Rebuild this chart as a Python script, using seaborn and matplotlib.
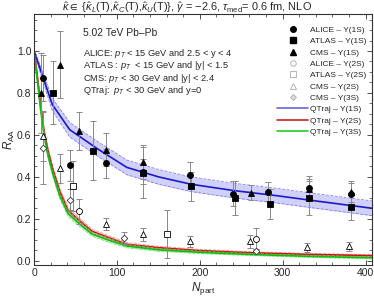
import numpy as np
import pandas as pd
import matplotlib
matplotlib.use("Agg")
import matplotlib.pyplot as plt
import seaborn as sns
from matplotlib.lines import Line2D
from matplotlib.ticker import MultipleLocator

# experimental data (Npart, R_AA, error)
alice_1s_x = [11, 43, 87, 131, 188, 240, 282, 332, 382]
alice_1s_y = [0.87, 0.455, 0.465, 0.425, 0.41, 0.32, 0.33, 0.345, 0.32]
alice_1s_e = [0.11, 0.075, 0.07, 0.06, 0.06, 0.06, 0.045, 0.06, 0.05]

atlas_1s_x = [23, 71, 131, 189, 242, 285, 332, 382]
atlas_1s_y = [0.80, 0.525, 0.42, 0.355, 0.30, 0.27, 0.30, 0.255]
atlas_1s_e = [0.15, 0.14, 0.12, 0.07, 0.08, 0.07, 0.08, 0.06]

cms_1s_x = [9, 31, 54, 87, 131, 262, 332, 382]
cms_1s_y = [0.80, 0.935, 0.62, 0.53, 0.47, 0.325, 0.34, 0.33]
cms_1s_e = [0.19, 0.16, 0.09, 0.08, 0.08, 0.035, 0.05, 0.05]

alice_2s_x = [54, 268]
alice_2s_y = [0.235, 0.105]
alice_2s_e = [0.06, 0.05]

atlas_2s_x = [47, 160]
atlas_2s_y = [0.355, 0.128]
atlas_2s_e = [0.12, 0.115]

cms_2s_x = [10.5, 31, 87, 131, 188, 261, 329, 380]
cms_2s_y = [0.595, 0.44, 0.175, 0.125, 0.092, 0.092, 0.063, 0.068]
cms_2s_e = [0.12, 0.07, 0.03, 0.03, 0.025, 0.03, 0.02, 0.02]

cms_3s_x = [10.5, 43, 108, 268]
cms_3s_y = [0.537, 0.29, 0.108, 0.048]
cms_3s_e = [0.17, 0.05, 0.03, 0.01]

# QTraj curves
qt_1s_x = [0, 22, 43, 76, 112, 150, 189, 240, 293, 340, 408]
qt_1s_y = [1.0, 0.745, 0.625, 0.535, 0.445, 0.40, 0.365, 0.335, 0.31, 0.285, 0.25]
qt_1s_band = [0.01, 0.03, 0.035, 0.035, 0.035, 0.035, 0.035, 0.035, 0.035, 0.035, 0.035]

qt_2s_x = [0, 4, 8, 12, 17, 23, 31, 41, 55, 70, 90, 112, 150, 200, 260, 330, 408]
qt_2s_y = [1.0, 0.88, 0.74, 0.62, 0.52, 0.43, 0.33, 0.24, 0.19, 0.14, 0.11, 0.078,
           0.062, 0.048, 0.038, 0.030, 0.024]
qt_3s_y = [0.99, 0.86, 0.72, 0.60, 0.50, 0.41, 0.31, 0.225, 0.175, 0.127, 0.098, 0.07,
           0.052, 0.040, 0.030, 0.021, 0.014]
qt_23s_band = [0.005, 0.015, 0.015, 0.015, 0.015, 0.015, 0.015, 0.015, 0.012, 0.01,
               0.01, 0.008, 0.007, 0.006, 0.005, 0.005, 0.005]

sns.set_theme(style="ticks")
plt.rcParams["font.family"] = ["Liberation Sans", "DejaVu Sans"]
plt.rcParams["mathtext.fontset"] = "custom"
plt.rcParams["mathtext.rm"] = "Liberation Sans"
plt.rcParams["mathtext.it"] = "Liberation Sans:italic"
plt.rcParams["mathtext.bf"] = "Liberation Sans:bold"
plt.rcParams["mathtext.fallback"] = "stixsans"

fig = plt.figure(figsize=(3.74, 3.0), dpi=100)
ax = fig.add_axes([0.091, 0.117, 0.904, 0.836])

blue, red, green = "#1a1acc", "#cc1111", "#11bb11"

curves = [
    (qt_1s_x, qt_1s_y, qt_1s_band, blue, "#6666ee"),
    (qt_2s_x, qt_2s_y, qt_23s_band, red, "#ee7777"),
    (qt_2s_x, qt_3s_y, qt_23s_band, green, "#66dd66"),
]
for xs, ys, bw, col, bcol in curves:
    xs = np.array(xs, dtype=float)
    ys = np.array(ys)
    bw = np.array(bw)
    ax.fill_between(xs, ys - bw, ys + bw, color=bcol, alpha=0.3, lw=0)
    ax.plot(xs, ys - bw, color=bcol, lw=0.6, ls="--", alpha=0.8)
    ax.plot(xs, ys + bw, color=bcol, lw=0.6, ls="--", alpha=0.8)
    df = pd.DataFrame({"Npart": xs, "RAA": ys})
    sns.lineplot(data=df, x="Npart", y="RAA", color=col, lw=1.2, ax=ax,
                 sort=False, estimator=None)

datasets = [
    (alice_1s_x, alice_1s_y, alice_1s_e, "o", "black", "black", 4.3),
    (atlas_1s_x, atlas_1s_y, atlas_1s_e, "s", "black", "black", 4.2),
    (cms_1s_x, cms_1s_y, cms_1s_e, "^", "black", "black", 4.6),
    (alice_2s_x, alice_2s_y, alice_2s_e, "o", "white", "black", 4.3),
    (atlas_2s_x, atlas_2s_y, atlas_2s_e, "s", "white", "black", 4.2),
    (cms_2s_x, cms_2s_y, cms_2s_e, "^", "white", "black", 4.6),
    (cms_3s_x, cms_3s_y, cms_3s_e, "D", "white", "#333333", 3.4),
]
for xs, ys, es, m, fc, ec, ms in datasets:
    ax.errorbar(xs, ys, yerr=es, fmt="none", ecolor="#888888", elinewidth=0.7,
                capsize=2, capthick=0.7, zorder=3)
    ax.plot(xs, ys, ls="none", marker=m, mfc=fc, mec=ec, ms=ms, mew=0.6, zorder=4)

ax.set_xlim(0, 408)
ax.set_ylim(-0.02, 1.176)
ax.xaxis.set_major_locator(MultipleLocator(100))
ax.xaxis.set_minor_locator(MultipleLocator(20))
ax.yaxis.set_major_locator(MultipleLocator(0.2))
ax.yaxis.set_minor_locator(MultipleLocator(0.05))
ax.yaxis.set_major_formatter(matplotlib.ticker.FormatStrFormatter("%.1f"))
ax.tick_params(which="both", direction="in", top=True, right=True, labelsize=7.5,
               pad=2, color="#333333")
ax.tick_params(which="major", length=3.5, width=0.6)
ax.tick_params(which="minor", length=2, width=0.5)
for s in ax.spines.values():
    s.set_linewidth(0.8)
    s.set_color("#333333")

ax.set_xlabel("$N_{\\mathrm{part}}$", fontsize=8.5, labelpad=2)
ax.set_ylabel("$R_{\\mathrm{AA}}$", fontsize=8.5, labelpad=0)

fig.text(0.5, 0.975,
         "$\\hat{\\kappa} \\in$ {$\\hat{\\kappa}_L$(T),$\\hat{\\kappa}_C$(T),$\\hat{\\kappa}_U$(T)}, "
         "$\\hat{\\gamma}$ = −2.6, $\\tau_{\\mathrm{med}}$= 0.6 fm, NLO",
         ha="center", va="center", fontsize=7.9)

ax.text(59, 1.086, "5.02 TeV Pb–Pb", fontsize=7.4, va="center")
lines = [
    "ALICE: $p_T$ < 15 GeV and 2.5 < y < 4",
    "ATLAS : $p_T$  < 15 GeV and |y| < 1.5",
    "CMS: $p_T$ < 30 GeV and |y| < 2.4",
    "QTraj:  $p_T$ < 30 GeV and y=0",
]
for i, t in enumerate(lines):
    ax.text(59, 0.99 - i * 0.06, t, fontsize=6.7, va="center")

grey = "#aaaaaa"
handles = [
    Line2D([], [], ls="none", marker="o", mfc="black", mec="black", ms=4),
    Line2D([], [], ls="none", marker="s", mfc="black", mec="black", ms=4),
    Line2D([], [], ls="none", marker="^", mfc="black", mec="black", ms=4),
    Line2D([], [], ls="none", marker="o", mfc="white", mec=grey, ms=4, mew=0.6),
    Line2D([], [], ls="none", marker="s", mfc="white", mec=grey, ms=4, mew=0.6),
    Line2D([], [], ls="none", marker="^", mfc="white", mec=grey, ms=4, mew=0.6),
    Line2D([], [], ls="none", marker="D", mfc="#dddddd", mec=grey, ms=3, mew=0.6),
    Line2D([], [], color="#6666dd", lw=1.2),
    Line2D([], [], color="#cc2222", lw=1.2),
    Line2D([], [], color="#22cc22", lw=1.2),
]
labels = ["ALICE – Υ(1S)", "ATLAS – Υ(1S)", "CMS – Υ(1S)", "ALICE – Υ(2S)",
          "ATLAS – Υ(2S)", "CMS – Υ(2S)", "CMS – Υ(3S)",
          "QTraj – Υ(1S)", "QTraj – Υ(2S)", "QTraj – Υ(3S)"]
ax.legend(handles, labels, loc="upper right", frameon=False, fontsize=6.0,
          handlelength=3.7, handletextpad=0.2, labelspacing=0.42,
          borderaxespad=0.3, bbox_to_anchor=(1.0, 0.975))

fig.savefig("out.png", dpi=100)
